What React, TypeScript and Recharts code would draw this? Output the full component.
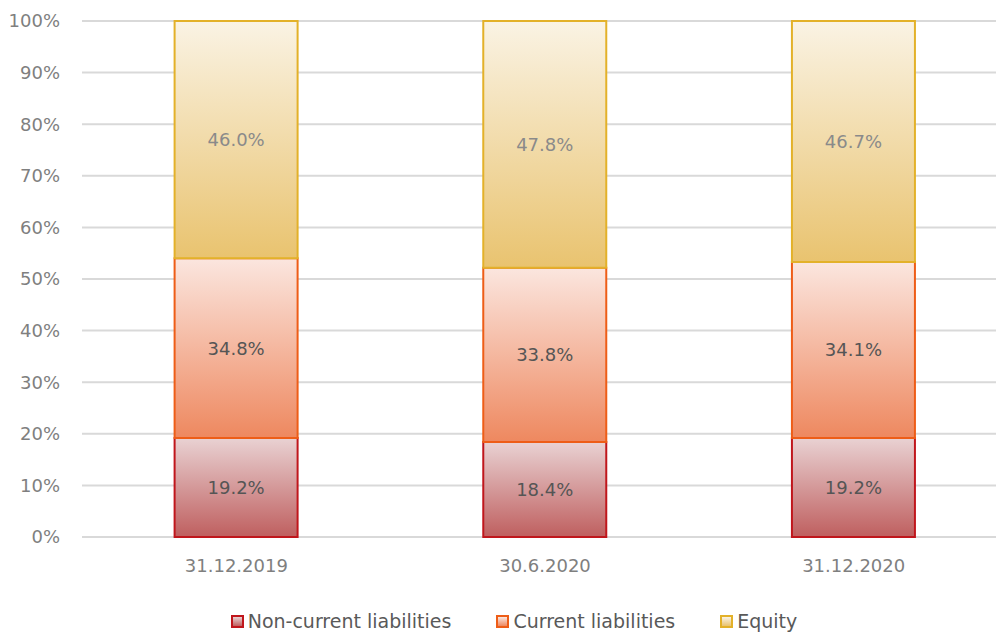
import { Bar, BarChart, CartesianGrid, LabelList, XAxis, YAxis } from "recharts"

const periods = ["31.12.2019", "30.6.2020", "31.12.2020"]
const nonCurrentLiabilities = [19.2, 18.4, 19.2]
const currentLiabilities = [34.8, 33.8, 34.1]
const equity = [46.0, 47.8, 46.7]
const yTicks = [0, 10, 20, 30, 40, 50, 60, 70, 80, 90, 100]
const seriesNames = ["Non-current liabilities", "Current liabilities", "Equity"]

const data = periods.map((period, i) => ({
  period,
  nonCurrent: nonCurrentLiabilities[i],
  current: currentLiabilities[i],
  equity: equity[i],
}))

const FONT = "'DejaVu Sans', sans-serif"

const styles = [
  { id: "gNon", top: "#e9d2d3", bottom: "#bf5f5f", stroke: "#c0161c" },
  { id: "gCur", top: "#fbe6df", bottom: "#ee885f", stroke: "#ee5d17" },
  { id: "gEq", top: "#faf3e4", bottom: "#e9c36f", stroke: "#e3b129" },
]

const fmt = (v: any) => `${Number(v).toFixed(1)}%`

function Legend() {
  return (
    <div
      style={{
        position: "absolute",
        top: 609,
        left: 0,
        width: 1028,
        display: "flex",
        justifyContent: "center",
        gap: 45,
        fontFamily: FONT,
        fontSize: 19,
        color: "#595959",
        lineHeight: "24px",
      }}
    >
      {seriesNames.map((name, i) => (
        <div key={name} style={{ display: "flex", alignItems: "center", gap: 4 }}>
          <div
            style={{
              width: 9,
              height: 9,
              border: `2px solid ${styles[i].stroke}`,
              background: `linear-gradient(${styles[i].top}, ${styles[i].bottom})`,
            }}
          />
          <span>{name}</span>
        </div>
      ))}
    </div>
  )
}

export default function App() {
  return (
    <div
      style={{
        position: "absolute",
        top: 0,
        left: 0,
        width: 996,
        height: 634,
        overflow: "hidden",
        background: "#fff",
      }}
    >
      <BarChart
        width={1008}
        height={634}
        data={data}
        margin={{ top: 21, right: 0, left: 22, bottom: 64 }}
        barCategoryGap="30%"
      >
        <defs>
          {styles.map((s) => (
            <linearGradient key={s.id} id={s.id} x1="0" y1="0" x2="0" y2="1">
              <stop offset="0%" stopColor={s.top} />
              <stop offset="100%" stopColor={s.bottom} />
            </linearGradient>
          ))}
        </defs>
        <CartesianGrid vertical={false} stroke="#d9d9d9" strokeWidth={2} />
        <XAxis
          dataKey="period"
          height={33}
          tickLine={false}
          axisLine={false}
          tickSize={0}
          tickMargin={22}
          tick={{ fill: "#7f7f7f", fontSize: 18, fontFamily: FONT }}
        />
        <YAxis
          width={60}
          domain={[0, 100]}
          ticks={yTicks}
          tickFormatter={(v) => `${v}%`}
          tickLine={false}
          axisLine={false}
          tickSize={0}
          tickMargin={22}
          tick={{ fill: "#7f7f7f", fontSize: 18, fontFamily: FONT }}
        />
        <Bar dataKey="nonCurrent" stackId="a" fill="url(#gNon)" stroke={styles[0].stroke} strokeWidth={2} isAnimationActive={false}>
          <LabelList dataKey="nonCurrent" position="center" formatter={fmt} fill="#555555" fontSize={18} fontFamily={FONT} />
        </Bar>
        <Bar dataKey="current" stackId="a" fill="url(#gCur)" stroke={styles[1].stroke} strokeWidth={2} isAnimationActive={false}>
          <LabelList dataKey="current" position="center" formatter={fmt} fill="#555555" fontSize={18} fontFamily={FONT} />
        </Bar>
        <Bar dataKey="equity" stackId="a" fill="url(#gEq)" stroke={styles[2].stroke} strokeWidth={2} isAnimationActive={false}>
          <LabelList dataKey="equity" position="center" formatter={fmt} fill="#8a8a8a" fontSize={18} fontFamily={FONT} />
        </Bar>
      </BarChart>
      <Legend />
    </div>
  )
}
